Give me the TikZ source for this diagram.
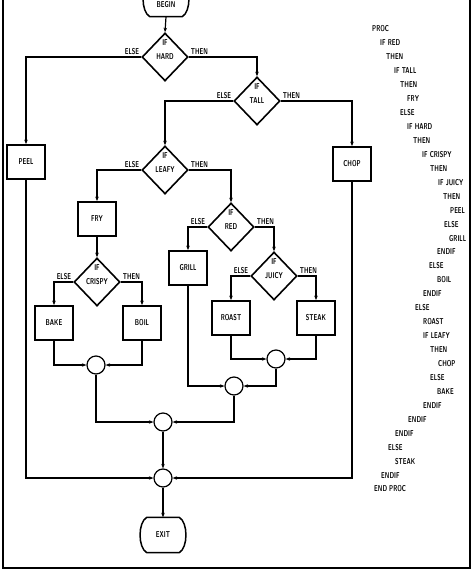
\documentclass[tikz,border=0pt]{standalone}
\usetikzlibrary{shapes.geometric,arrows.meta,calc}
\newcommand{\tx}[1]{{\fontsize{8.5}{9}\selectfont\sffamily\bfseries\scalebox{0.68}[1]{#1}}}
\newcommand{\barrel}[1]{\draw[line width=1.5pt] ($(#1.north west)+(7,0)$) -- ($(#1.north east)+(-7,0)$) .. controls ($(#1.north east)+(2,5)$) and ($(#1.south east)+(2,-5)$) .. ($(#1.south east)+(-7,0)$) -- ($(#1.south west)+(7,0)$) .. controls ($(#1.south west)+(-2,-5)$) and ($(#1.north west)+(-2,5)$) .. cycle;}
\tikzset{
  box/.style={draw, line width=1.8pt, minimum width=38pt, minimum height=34pt, inner sep=0pt},
  dia/.style={draw, diamond, aspect=1, line width=1.6pt, minimum width=46pt, minimum height=48pt, inner sep=0pt},
  term/.style={minimum width=46pt, minimum height=35pt, inner sep=0pt},
  joincirc/.style={draw, circle, line width=1.2pt, minimum size=18pt, inner sep=0pt},
  conn/.style={line width=1.2pt, -{Stealth[length=4.5pt,width=3.5pt]}},
  lbl/.style={inner sep=1.5pt},
  code/.style={anchor=west, inner sep=0pt}
}
\begin{document}
\begin{tikzpicture}[x=1pt,y=-1pt]
\useasboundingbox (0,0) rectangle (474,578);
% frame
\draw[line width=2pt] (3,-5) -- (3,568) -- (470,568) -- (470,-5);
% nodes
\node[term] (begin) at (166,-1) {};
\barrel{begin}
\node[lbl] (begintxt) at (166,5) {\tx{BEGIN}};
\node[dia] (hard) at (165,57) {\tx{HARD}};
\node[lbl] (hardif) at ($(hard)+(0,-14)$) {\tx{IF}};
\node[dia] (tall) at (257,101) {\tx{TALL}};
\node[lbl] (tallif) at ($(tall)+(0,-14)$) {\tx{IF}};
\node[box] (peel) at (26,162) {\tx{PEEL}};
\node[box] (chop) at (352,164) {\tx{CHOP}};
\node[dia] (leafy) at (165,170) {\tx{LEAFY}};
\node[lbl] (leafyif) at ($(leafy)+(0,-14)$) {\tx{IF}};
\node[box] (fry) at (97,219) {\tx{FRY}};
\node[dia] (crispy) at (97,282) {\tx{CRISPY}};
\node[lbl] (crispyif) at ($(crispy)+(0,-14)$) {\tx{IF}};
\node[box] (bake) at (54,323) {\tx{BAKE}};
\node[box] (boil) at (142,323) {\tx{BOIL}};
\node[dia] (red) at (231,227) {\tx{RED}};
\node[lbl] (redif) at ($(red)+(0,-14)$) {\tx{IF}};
\node[box] (grill) at (188,268) {\tx{GRILL}};
\node[dia] (juicy) at (274,276) {\tx{JUICY}};
\node[lbl] (juicyif) at ($(juicy)+(0,-14)$) {\tx{IF}};
\node[box] (roast) at (231,318) {\tx{ROAST}};
\node[box] (steak) at (316,318) {\tx{STEAK}};
\node[joincirc] (j1) at (96,365) {};
\node[joincirc] (j2) at (276,359) {};
\node[joincirc] (j3) at (234,386) {};
\node[joincirc] (j4) at (163,422) {};
\node[joincirc] (j5) at (163,478) {};
\node[term] (exit) at (163,535) {\tx{EXIT}};
\barrel{exit}
% connectors
\draw[conn] (begin.south) -- (hard.north);
\draw[conn] (hard.west) node[lbl, above left] (l1) {\tx{ELSE}} -| (peel.north);
\draw[conn] (hard.east) node[lbl, above right] (l2) {\tx{THEN}} -| (tall.north);
\draw[conn] (tall.west) node[lbl, above left] (l3) {\tx{ELSE}} -| (leafy.north);
\draw[conn] (tall.east) node[lbl, above right] (l4) {\tx{THEN}} -| (chop.north);
\draw[conn] (leafy.west) node[lbl, above left] (l5) {\tx{ELSE}} -| (fry.north);
\draw[conn] (leafy.east) node[lbl, above right] (l6) {\tx{THEN}} -| (red.north);
\draw[conn] (fry.south) -- (crispy.north);
\draw[conn] (crispy.west) node[lbl, above left] (l7) {\tx{ELSE}} -| (bake.north);
\draw[conn] (crispy.east) node[lbl, above right] (l8) {\tx{THEN}} -| (boil.north);
\draw[conn] (red.west) node[lbl, above left] (l9) {\tx{ELSE}} -| (grill.north);
\draw[conn] (red.east) node[lbl, above right] (l10) {\tx{THEN}} -| (juicy.north);
\draw[conn] (juicy.west) node[lbl, above left] (l11) {\tx{ELSE}} -| (roast.north);
\draw[conn] (juicy.east) node[lbl, above right] (l12) {\tx{THEN}} -| (steak.north);
\draw[conn] (bake.south) |- (j1.west);
\draw[conn] (boil.south) |- (j1.east);
\draw[conn] (roast.south) |- (j2.west);
\draw[conn] (steak.south) |- (j2.east);
\draw[conn] (grill.south) |- (j3.west);
\draw[conn] (j2.south) |- (j3.east);
\draw[conn] (j1.south) |- (j4.west);
\draw[conn] (j3.south) |- (j4.east);
\draw[conn] (j4.south) -- (j5.north);
\draw[conn] (peel.south) |- (j5.west);
\draw[conn] (chop.south) |- (j5.east);
\draw[conn] (j5.south) -- (exit.north);
% pseudocode column
\foreach \i/\xx/\t in {0/372/PROC, 1/380/IF RED, 2/386/THEN, 3/394/IF TALL, 4/400/THEN, 5/407/FRY, 6/400/ELSE, 7/407/IF HARD, 8/413/THEN, 9/422/IF CRISPY, 10/430/THEN, 11/438/IF JUICY, 12/443/THEN, 13/450/PEEL, 14/444/ELSE, 15/449/GRILL, 16/437/ENDIF, 17/429/ELSE, 18/437/BOIL, 19/423/ENDIF, 20/415/ELSE, 21/423/ROAST, 22/423/IF LEAFY, 23/430/THEN, 24/438/CHOP, 25/430/ELSE, 26/437/BAKE, 27/423/ENDIF, 28/408/ENDIF, 29/395/ENDIF, 30/388/ELSE, 31/395/STEAK, 32/381/ENDIF, 33/374/END PROC}
  \node[code] (p\i) at (\xx, {29+13.94*\i}) {\tx{\t}};
\end{tikzpicture}
\end{document}
